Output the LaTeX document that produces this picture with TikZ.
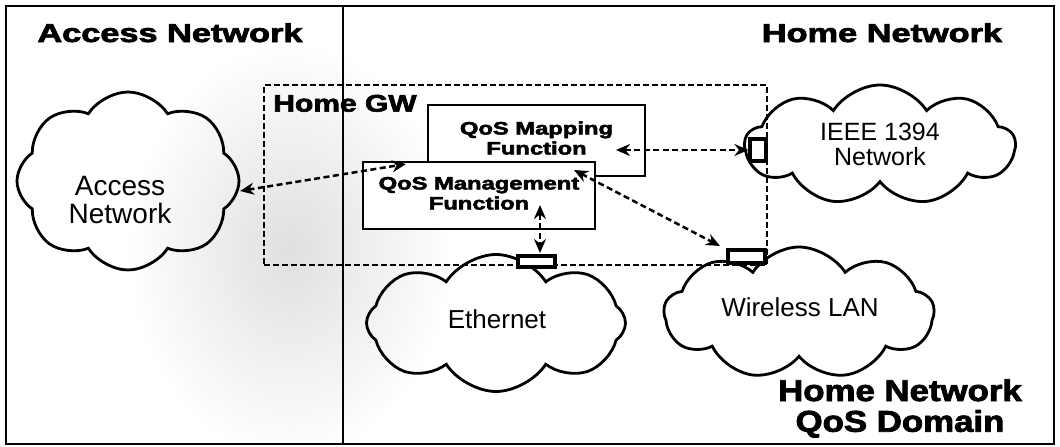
\documentclass[tikz,border=0pt]{standalone}
\usepackage{fontspec}
\usepackage{graphicx}
\setmainfont{Liberation Sans}
\newfontfamily\hvfont{Liberation Sans}[BoldFeatures={FakeBold=2.5}]
\usetikzlibrary{shapes.symbols,arrows.meta,fadings}
\tikzfading[name=softblob, inner color=transparent!45, outer color=transparent!100]
\newcommand\hv[4]{{\hvfont\bfseries\fontsize{#1}{#2}\selectfont\scalebox{#3}[1]{\begin{tabular}{@{}c@{}}#4\end{tabular}}}}
\newcommand\rg[3]{{\fontsize{#1}{#2}\selectfont\begin{tabular}{@{}c@{}}#3\end{tabular}}}
\tikzset{
  netcloud/.style={cloud, cloud puffs=8, cloud puff arc=115, draw, line width=2.8pt, inner sep=0pt},
  fbox/.style={draw, line width=1.7pt, fill=white, inner sep=0pt},
  gwbox/.style={draw, line width=2.4pt, dash pattern=on 6pt off 3pt, inner sep=0pt},
  port/.style={draw, line width=3.2pt, fill=white, inner sep=0pt},
  dar/.style={line width=2.5pt, dash pattern=on 6pt off 3.5pt, {Stealth[length=14pt,width=12pt]}-{Stealth[length=14pt,width=12pt]}},
  frame/.style={line width=1.6pt},
  lbl/.style={inner sep=0pt}
}
\begin{document}
\begin{tikzpicture}[x=1pt,y=-1pt]
\useasboundingbox (0,0) rectangle (1060,447);
\fill[white] (0,0) rectangle (1060,447);
% stippled gray background
\fill[gray!45, path fading=softblob] (290,250) ellipse [x radius=160, y radius=205];
% frame
\draw[frame] (6,6) rectangle (1054,444);
\coordinate (dtop) at (343,6);
\coordinate (dbot) at (343,444);
\draw[frame] (dtop) -- (dbot);
% Home GW box
\node[gwbox, minimum width=503pt, minimum height=180pt] (gw) at (515.5,175) {};
% clouds
\node[netcloud, minimum width=222pt, minimum height=178pt] (acc) at (128,181) {};
\node[netcloud, cloud puffs=9, minimum width=270pt, minimum height=120pt] (ieee) at (880,145) {};
\node[netcloud, minimum width=259pt, minimum height=137pt] (eth) at (496,323) {};
\node[netcloud, cloud puffs=9, minimum width=270pt, minimum height=132pt] (wlan) at (799,313) {};
% function boxes
\node[fbox, minimum width=217pt, minimum height=71pt] (map) at (536.5,140.5) {\hv{18}{20}{1.32}{QoS Mapping\\Function}};
\node[fbox, minimum width=232pt, minimum height=67pt] (mgmt) at (479,195.5) {\hv{18}{20}{1.32}{QoS Management\\Function}};
% ports
\node[port, minimum width=16pt, minimum height=22pt] (p1) at (758,150) {};
\node[port, minimum width=37pt, minimum height=11pt] (p2) at (536.5,261.5) {};
\node[port, minimum width=37pt, minimum height=13pt] (p3) at (746.5,256.5) {};
% arrows
\coordinate (a1s) at (240,191);
\coordinate (a1e) at (406,164);
\draw[dar] (a1s) -- (a1e);
\coordinate (a2s) at (616,150);
\draw[dar] (a2s) -- (p1.west);
\coordinate (a3s) at (574,170);
\coordinate (a3e) at (720,246);
\draw[dar] (a3s) -- (a3e);
\coordinate (a4s) at (540,205);
\coordinate (a4e) at (540,253);
\draw[dar] (a4s) -- (a4e);
% texts
\node[lbl] (tacc) at (170,36) {\hv{26}{30}{1.32}{Access Network}};
\node[lbl] (thome) at (882,36) {\hv{26}{30}{1.32}{Home Network}};
\node[lbl] (tgw) at (345,106) {\hv{24}{28}{1.25}{Home GW}};
\node[lbl] (tdom) at (900,410) {\hv{30}{30}{1.16}{Home Network\\QoS Domain}};
\node[lbl] (lacc) at (120,204) {\rg{28}{25}{Access\\Network}};
\node[lbl] (lieee) at (880,148) {\rg{25}{25}{IEEE 1394\\Network}};
\node[lbl] (leth) at (497,323) {\rg{26}{26}{Ethernet}};
\node[lbl] (lwlan) at (800,311) {\rg{26}{26}{Wireless LAN}};
\end{tikzpicture}
\end{document}
